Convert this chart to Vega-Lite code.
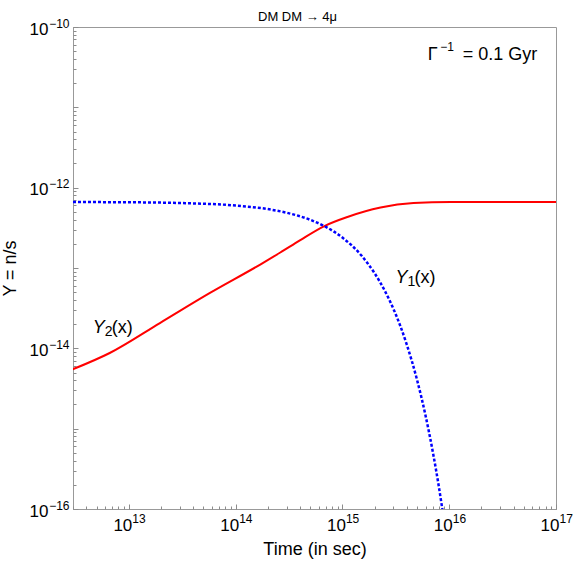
{
  "$schema": "https://vega.github.io/schema/vega-lite/v6.json",
  "width": 483,
  "height": 482,
  "autosize": {"type": "none"},
  "padding": {"left": 73, "top": 27, "right": 17, "bottom": 52},
  "background": "white",
  "config": {
    "font": "Liberation Sans",
    "view": {"stroke": "#999999", "strokeWidth": 1},
    "axis": {
      "domain": false,
      "grid": false,
      "tickColor": "#8c8c8c",
      "tickWidth": 1,
      "labelColor": "black",
      "titleColor": "black",
      "labelFont": "Liberation Sans",
      "titleFont": "Liberation Sans",
      "titleFontSize": 18,
      "titleFontWeight": "normal",
      "labelFlush": false,
      "labelOverlap": false,
      "labelBound": false
    }
  },
  "title": {"text": "DM DM → 4μ", "fontSize": 13, "fontWeight": "normal", "font": "Liberation Sans", "offset": -7, "dx": -17, "color": "black"},
  "resolve": {"axis": {"x": "independent", "y": "independent"}},
  "datasets": {
    "curves": [
      {"t": 2.98e12, "y": 5.48e-15, "series": "Y2"},
      {"t": 6.62e12, "y": 8.75e-15, "series": "Y2"},
      {"t": 1.954e13, "y": 2.065e-14, "series": "Y2"},
      {"t": 5.75e13, "y": 4.89e-14, "series": "Y2"},
      {"t": 1.70e14, "y": 1.104e-13, "series": "Y2"},
      {"t": 2.62e14, "y": 1.56e-13, "series": "Y2"},
      {"t": 4.03e14, "y": 2.23e-13, "series": "Y2"},
      {"t": 6.78e14, "y": 3.33e-13, "series": "Y2"},
      {"t": 1.114e15, "y": 4.32e-13, "series": "Y2"},
      {"t": 2.275e15, "y": 5.66e-13, "series": "Y2"},
      {"t": 4.63e15, "y": 6.44e-13, "series": "Y2"},
      {"t": 1.03e16, "y": 6.64e-13, "series": "Y2"},
      {"t": 1e17, "y": 6.64e-13, "series": "Y2"},
      {"t": 3e12, "y": 6.62e-13, "series": "Y1"},
      {"t": 1e13, "y": 6.58e-13, "series": "Y1"},
      {"t": 3e13, "y": 6.44e-13, "series": "Y1"},
      {"t": 1e14, "y": 5.99e-13, "series": "Y1"},
      {"t": 2e14, "y": 5.41e-13, "series": "Y1"},
      {"t": 3e14, "y": 4.88e-13, "series": "Y1"},
      {"t": 5e14, "y": 3.98e-13, "series": "Y1"},
      {"t": 7e14, "y": 3.25e-13, "series": "Y1"},
      {"t": 1e15, "y": 2.39e-13, "series": "Y1"},
      {"t": 1.5e15, "y": 1.44e-13, "series": "Y1"},
      {"t": 2e15, "y": 8.62e-14, "series": "Y1"},
      {"t": 2.5e15, "y": 5.18e-14, "series": "Y1"},
      {"t": 3e15, "y": 3.11e-14, "series": "Y1"},
      {"t": 3.5e15, "y": 1.87e-14, "series": "Y1"},
      {"t": 4e15, "y": 1.12e-14, "series": "Y1"},
      {"t": 5e15, "y": 4.04e-15, "series": "Y1"},
      {"t": 6e15, "y": 1.46e-15, "series": "Y1"},
      {"t": 7e15, "y": 5.25e-16, "series": "Y1"},
      {"t": 8e15, "y": 1.89e-16, "series": "Y1"},
      {"t": 9e15, "y": 6.8e-17, "series": "Y1"}
    ],
    "lab": [
      {"t": 4.07e15, "y": 6.50e-14, "sub": "1"},
      {"t": 5.94e12, "y": 1.552e-14, "sub": "2"}
    ],
    "gam": [
      {"t": 7.80e15, "y": 3.88e-11}
    ]
  },
  "layer": [
    {
      "data": {"name": "curves"},
      "transform": [{"filter": "datum.series == 'Y2'"}],
      "mark": {"type": "line", "color": "#ff0000", "strokeWidth": 2, "interpolate": "monotone", "clip": true},
      "encoding": {
        "x": {
          "field": "t", "type": "quantitative",
          "scale": {"type": "log", "domain": [3e12, 1e17], "nice": false},
          "axis": {
            "orient": "bottom",
            "title": "Time (in sec)",
            "titlePadding": 7,
            "values": [3e12,4e12,5e12,6e12,7e12,8e12,9e12,1e13,2e13,3e13,4e13,5e13,6e13,7e13,8e13,9e13,1e14,2e14,3e14,4e14,5e14,6e14,7e14,8e14,9e14,1e15,2e15,3e15,4e15,5e15,6e15,7e15,8e15,9e15,1e16,2e16,3e16,4e16,5e16,6e16,7e16,8e16,9e16,1e17],
            "labelExpr": "abs(log(datum.value)/LN10 - round(log(datum.value)/LN10)) < 0.001 ? '10' : ''",
            "labelFontSize": 17,
            "labelAlign": "right",
            "labelBaseline": "alphabetic",
            "labelOffset": 3,
            "labelPadding": 24,
            "tickSize": -3
          }
        },
        "y": {
          "field": "y", "type": "quantitative",
          "scale": {"type": "log", "domain": [1e-16, 1e-10], "nice": false},
          "axis": {
            "orient": "left",
            "title": "Y = n/s",
            "titlePadding": 10,
            "values": [1e-16,2e-16,3e-16,4e-16,5e-16,6e-16,7e-16,8e-16,9e-16,1e-15,2e-15,3e-15,4e-15,5e-15,6e-15,7e-15,8e-15,9e-15,1e-14,2e-14,3e-14,4e-14,5e-14,6e-14,7e-14,8e-14,9e-14,1e-13,2e-13,3e-13,4e-13,5e-13,6e-13,7e-13,8e-13,9e-13,1e-12,2e-12,3e-12,4e-12,5e-12,6e-12,7e-12,8e-12,9e-12,1e-11,2e-11,3e-11,4e-11,5e-11,6e-11,7e-11,8e-11,9e-11,1e-10],
            "labelExpr": "abs(log(datum.value)/LN10 - round(log(datum.value)/LN10)) < 0.001 && round(log(datum.value)/LN10) % 2 == 0 ? '10' : ''",
            "labelFontSize": 17,
            "labelAlign": "right",
            "labelBaseline": "alphabetic",
            "labelOffset": 7,
            "labelPadding": 28,
            "tickSize": -3
          }
        }
      }
    },
    {
      "data": {"name": "curves"},
      "transform": [{"filter": "datum.series == 'Y1'"}],
      "mark": {"type": "line", "color": "#0000ff", "strokeWidth": 2.5, "strokeDash": [3, 2], "interpolate": "monotone", "clip": true},
      "encoding": {
        "x": {
          "field": "t", "type": "quantitative",
          "axis": {
            "orient": "bottom",
            "title": null,
            "tickSize": -5,
            "values": [1e13, 1e14, 1e15, 1e16, 1e17],
            "labelExpr": "format(round(log(datum.value)/LN10), 'd')",
            "labelFontSize": 12,
            "labelAlign": "left",
            "labelBaseline": "alphabetic",
            "labelOffset": 3,
            "labelPadding": 18
          }
        },
        "y": {
          "field": "y", "type": "quantitative",
          "axis": {
            "orient": "left",
            "title": null,
            "tickSize": -5,
            "values": [1e-16, 1e-15, 1e-14, 1e-13, 1e-12, 1e-11, 1e-10],
            "labelExpr": "round(log(datum.value)/LN10) % 2 == 0 ? '−' + format(-round(log(datum.value)/LN10), 'd') : ''",
            "labelFontSize": 12,
            "labelAlign": "right",
            "labelBaseline": "alphabetic",
            "labelOffset": 0,
            "labelPadding": 9
          }
        }
      }
    },
    {
      "data": {"name": "lab"},
      "mark": {"type": "text", "text": "Y", "fontSize": 18, "fontStyle": "italic", "align": "right", "baseline": "alphabetic", "color": "black"},
      "encoding": {
        "x": {"field": "t", "type": "quantitative", "axis": null},
        "y": {"field": "y", "type": "quantitative", "axis": null}
      }
    },
    {
      "data": {"name": "lab"},
      "mark": {"type": "text", "fontSize": 14, "align": "left", "baseline": "alphabetic", "dy": 3, "color": "black"},
      "encoding": {
        "x": {"field": "t", "type": "quantitative", "axis": null},
        "y": {"field": "y", "type": "quantitative", "axis": null},
        "text": {"field": "sub"}
      }
    },
    {
      "data": {"name": "lab"},
      "mark": {"type": "text", "text": "(x)", "fontSize": 18, "align": "left", "baseline": "alphabetic", "dx": 7, "color": "black"},
      "encoding": {
        "x": {"field": "t", "type": "quantitative", "axis": null},
        "y": {"field": "y", "type": "quantitative", "axis": null}
      }
    },
    {
      "data": {"name": "gam"},
      "mark": {"type": "text", "text": "Γ", "fontSize": 18, "align": "right", "baseline": "alphabetic", "color": "black"},
      "encoding": {
        "x": {"field": "t", "type": "quantitative", "axis": null},
        "y": {"field": "y", "type": "quantitative", "axis": null}
      }
    },
    {
      "data": {"name": "gam"},
      "mark": {"type": "text", "text": "−1", "fontSize": 12, "align": "left", "baseline": "alphabetic", "dx": 2.5, "dy": -9, "color": "black"},
      "encoding": {
        "x": {"field": "t", "type": "quantitative", "axis": null},
        "y": {"field": "y", "type": "quantitative", "axis": null}
      }
    },
    {
      "data": {"name": "gam"},
      "mark": {"type": "text", "text": "= 0.1 Gyr", "fontSize": 18, "align": "left", "baseline": "alphabetic", "dx": 25, "color": "black"},
      "encoding": {
        "x": {"field": "t", "type": "quantitative", "axis": null},
        "y": {"field": "y", "type": "quantitative", "axis": null}
      }
    }
  ]
}
